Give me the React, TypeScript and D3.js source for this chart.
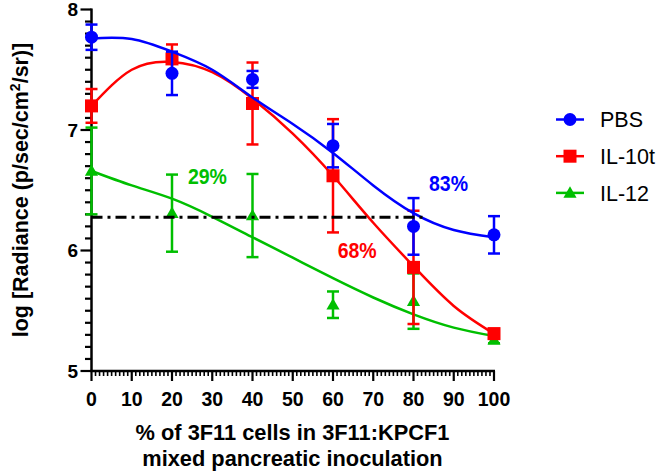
import React from "react";
import * as d3 from "d3";

const xValues = [0, 20, 40, 60, 80, 100];
const pbsMean = [7.77, 7.47, 7.42, 6.87, 6.2, 6.13];
const pbsErr = [0.105, 0.18, 0.07, 0.18, 0.235, 0.155];
const il10Mean = [7.2, 7.59, 7.22, 6.62, 5.86, 5.31];
const il10Err = [0.14, 0.12, 0.34, 0.47, 0.47, 0.04];
const il12Mean = [6.66, 6.31, 6.29, 5.55, 5.58, 5.26];
const il12Err = [0.36, 0.32, 0.345, 0.11, 0.23, 0.03];

// fitted curves
const curveX = [0, 10, 20, 30, 40, 50, 60, 70, 80, 90, 100];
const pbsCurve = [7.76, 7.755, 7.65, 7.5, 7.27, 7.05, 6.81, 6.54, 6.31, 6.17, 6.11];
const il10Curve = [7.2, 7.5, 7.565, 7.48, 7.26, 6.97, 6.62, 6.23, 5.87, 5.54, 5.31];
const il12Curve = [6.66, 6.54, 6.43, 6.28, 6.11, 5.94, 5.77, 5.61, 5.47, 5.36, 5.29];

const thresholdValue = 6.275;
const thresholdXEnd = 82.5;

const xTickLabels = [0, 10, 20, 30, 40, 50, 60, 70, 80, 90, 100];
const yTickLabels = [5, 6, 7, 8];

const annotations = [
  { text: "29%", x: 28.8, y: 6.552, color: "#00BF00" },
  { text: "68%", x: 66, y: 5.938, color: "#FF0000" },
  { text: "83%", x: 88.7, y: 6.495, color: "#0000FF" },
];

const FONT = "'Liberation Sans', Arial, sans-serif";

export default function App() {
  const W = 658, H = 473;
  const x = d3.scaleLinear().domain([0, 100]).range([91.5, 494]);
  const y = d3.scaleLinear().domain([5, 8]).range([371, 9.5]);

  const series = [
    { name: "IL-12", color: "#00BF00", mean: il12Mean, err: il12Err, curve: il12Curve, shape: "triangle" },
    { name: "IL-10t", color: "#FF0000", mean: il10Mean, err: il10Err, curve: il10Curve, shape: "square" },
    { name: "PBS", color: "#0000FF", mean: pbsMean, err: pbsErr, curve: pbsCurve, shape: "circle" },
  ];
  const legendOrder = ["PBS", "IL-10t", "IL-12"];

  const line = d3
    .line<number>()
    .x((_, i) => x(curveX[i]))
    .y((d) => y(d))
    .curve(d3.curveNatural);

  const tri = d3.symbol().type(d3.symbolTriangle).size(75)();

  const marker = (shape: string, cx: number, cy: number, color: string, key: string) => {
    if (shape === "circle") return <circle key={key} cx={cx} cy={cy} r={6.5} fill={color} />;
    if (shape === "square")
      return <rect key={key} x={cx - 6.5} y={cy - 6.5} width={13} height={13} fill={color} />;
    return <path key={key} d={tri || ""} transform={`translate(${cx},${cy + 1})`} fill={color} />;
  };

  const yMinor = y.ticks(30);
  const xMinor = x.ticks(100);

  return (
    <svg width={W} height={H} style={{ position: "absolute", left: 0, top: 0, background: "#fff" }} fontFamily={FONT}>
      <rect width={W} height={H} fill="#fff" />
      {/* y axis */}
      <line x1={x(0)} x2={x(0)} y1={y(8) - 1} y2={y(5)} stroke="#000" strokeWidth={2.5} />
      {yMinor.map((t) => {
        const major = Math.abs(t - Math.round(t)) < 1e-6;
        return (
          <line key={"ym" + t} x1={x(0) - (major ? 11 : 6.5)} x2={x(0)} y1={y(t)} y2={y(t)} stroke="#000" strokeWidth={2.2} />
        );
      })}
      {yTickLabels.map((t) => (
        <text key={"yl" + t} x={x(0) - 13.5} y={y(t)} dy="0.36em" textAnchor="end" fontSize={19} fontWeight="bold">
          {t}
        </text>
      ))}
      {/* x axis */}
      <line x1={x(0) - 1} x2={x(100) + 1} y1={y(5)} y2={y(5)} stroke="#000" strokeWidth={2.5} />
      {xMinor.map((t) => {
        const major = t % 10 === 0;
        return (
          <line key={"xm" + t} x1={x(t)} x2={x(t)} y1={y(5)} y2={y(5) + (major ? 10 : 5)} stroke="#000" strokeWidth={major ? 2.2 : 1.6} />
        );
      })}
      {xTickLabels.map((t) => (
        <text key={"xl" + t} x={x(t)} y={405.5} textAnchor="middle" fontSize={19.5} fontWeight="bold">
          {t}
        </text>
      ))}
      {/* axis titles */}
      <text x={292.5} y={439.5} textAnchor="middle" fontSize={21.8} fontWeight="bold">
        % of 3F11 cells in 3F11:KPCF1
      </text>
      <text x={292.5} y={466} textAnchor="middle" fontSize={21.8} fontWeight="bold">
        mixed pancreatic inoculation
      </text>
      <text transform="translate(27.5,190) rotate(-90)" textAnchor="middle" fontSize={21.5} fontWeight="bold">
        log [Radiance (p/sec/cm<tspan dy={-8} fontSize={14}>2</tspan>
        <tspan dy={8}>/sr)]</tspan>
      </text>

      {/* series */}
      {series.map((s) => (
        <g key={s.name}>
          <path d={line(s.curve) || ""} fill="none" stroke={s.color} strokeWidth={2.5} />
          {xValues.map((xv, i) => {
            const cx = x(xv);
            const top = y(s.mean[i] + s.err[i]);
            const bot = y(s.mean[i] - s.err[i]);
            return (
              <g key={"e" + i} stroke={s.color} strokeWidth={2.5}>
                <line x1={cx} x2={cx} y1={top} y2={bot} />
                <line x1={cx - 6} x2={cx + 6} y1={top} y2={top} />
                <line x1={cx - 6} x2={cx + 6} y1={bot} y2={bot} />
              </g>
            );
          })}
          {xValues.map((xv, i) => marker(s.shape, x(xv), y(s.mean[i]), s.color, "m" + i))}
        </g>
      ))}

      {/* threshold */}
      <line
        x1={x(0)}
        x2={x(thresholdXEnd)}
        y1={y(thresholdValue)}
        y2={y(thresholdValue)}
        stroke="#000"
        strokeWidth={3}
        strokeDasharray="11 5 3 5"
      />

      {annotations.map((a) => (
        <text
          key={a.text}
          x={x(a.x) - 19.5}
          y={y(a.y)}
          fontSize={22}
          fontWeight="bold"
          fill={a.color}
          textLength={39}
          lengthAdjust="spacingAndGlyphs"
        >
          {a.text}
        </text>
      ))}

      {/* legend */}
      {legendOrder.map((name, i) => {
        const s = series.find((d) => d.name === name)!;
        const ly = 119.5 + i * 36.7;
        return (
          <g key={"lg" + name}>
            <line x1={556} x2={584} y1={ly} y2={ly} stroke={s.color} strokeWidth={2.5} />
            {marker(s.shape, 570, ly, s.color, "lm")}
            <text x={600} y={ly} dy="0.36em" fontSize={21.5}>
              {name}
            </text>
          </g>
        );
      })}
    </svg>
  );
}
